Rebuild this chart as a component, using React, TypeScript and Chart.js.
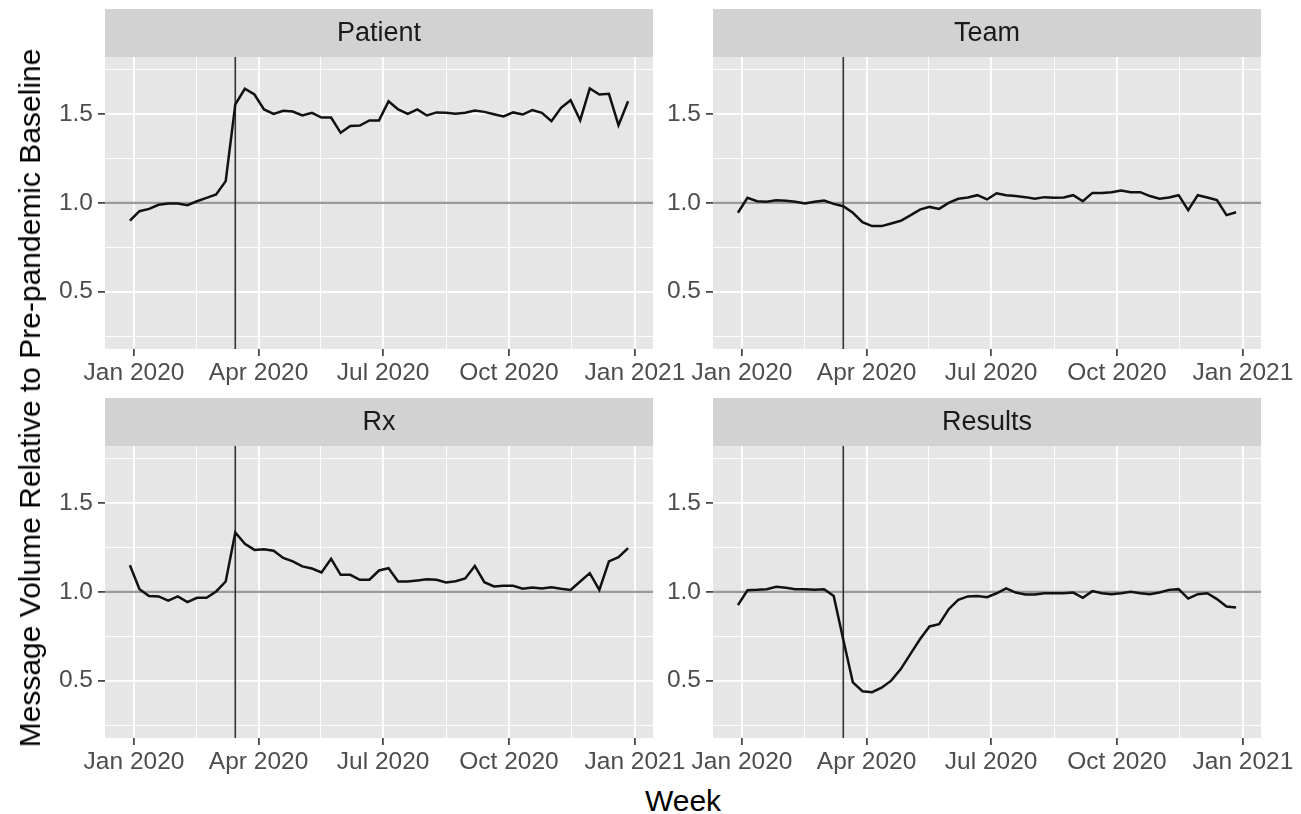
import React, { useEffect, useRef } from 'react';
import { Chart, registerables } from 'chart.js';

Chart.register(...registerables);

// ---------- data ----------
const weeks = [
  '2019-12-29', '2020-01-05', '2020-01-12', '2020-01-19', '2020-01-26', '2020-02-02', '2020-02-09',
  '2020-02-16', '2020-02-23', '2020-03-01', '2020-03-08', '2020-03-15', '2020-03-22', '2020-03-29',
  '2020-04-05', '2020-04-12', '2020-04-19', '2020-04-26', '2020-05-03', '2020-05-10', '2020-05-17',
  '2020-05-24', '2020-05-31', '2020-06-07', '2020-06-14', '2020-06-21', '2020-06-28', '2020-07-05',
  '2020-07-12', '2020-07-19', '2020-07-26', '2020-08-02', '2020-08-09', '2020-08-16', '2020-08-23',
  '2020-08-30', '2020-09-06', '2020-09-13', '2020-09-20', '2020-09-27', '2020-10-04', '2020-10-11',
  '2020-10-18', '2020-10-25', '2020-11-01', '2020-11-08', '2020-11-15', '2020-11-22', '2020-11-29',
  '2020-12-06', '2020-12-13', '2020-12-20', '2020-12-27',
];

const patient = [
  0.90, 0.953, 0.966, 0.989, 0.996, 0.996, 0.987, 1.009, 1.028, 1.047,
  1.122, 1.554, 1.642, 1.610, 1.526, 1.501, 1.518, 1.514, 1.492, 1.507,
  1.480, 1.480, 1.394, 1.432, 1.435, 1.464, 1.464, 1.572, 1.526, 1.501,
  1.526, 1.492, 1.509, 1.507, 1.501, 1.507, 1.520, 1.512, 1.499, 1.486,
  1.509, 1.497, 1.522, 1.507, 1.460, 1.535, 1.578, 1.465, 1.644, 1.610, 1.614, 1.437, 1.572,
];

const team = [
  0.944, 1.028, 1.009, 1.006, 1.015, 1.011, 1.006, 0.996, 1.006, 1.013,
  0.994, 0.981, 0.944, 0.891, 0.869, 0.869, 0.884, 0.899, 0.929, 0.962,
  0.977, 0.966, 1.0, 1.023, 1.030, 1.043, 1.019, 1.054, 1.043, 1.038,
  1.032, 1.023, 1.032, 1.028, 1.030, 1.043, 1.009, 1.056, 1.056, 1.060,
  1.069, 1.060, 1.060, 1.038, 1.023, 1.030, 1.043, 0.959, 1.043, 1.030, 1.015, 0.931, 0.947,
];

const rx = [
  1.150, 1.015, 0.977, 0.974, 0.951, 0.974, 0.942, 0.966, 0.966, 1.002,
  1.058, 1.334, 1.270, 1.236, 1.240, 1.231, 1.191, 1.171, 1.143, 1.131,
  1.109, 1.186, 1.096, 1.096, 1.068, 1.068, 1.120, 1.133, 1.058, 1.058,
  1.064, 1.071, 1.068, 1.053, 1.060, 1.075, 1.146, 1.054, 1.030, 1.034,
  1.034, 1.017, 1.024, 1.019, 1.026, 1.017, 1.011, 1.058, 1.105, 1.011, 1.171, 1.195, 1.246,
];

const results = [
  0.925, 1.009, 1.011, 1.015, 1.028, 1.023, 1.015, 1.015, 1.011, 1.015,
  0.977, 0.73, 0.49, 0.44, 0.435, 0.46, 0.50, 0.565, 0.649, 0.733,
  0.805, 0.818, 0.902, 0.955, 0.974, 0.977, 0.970, 0.992, 1.019, 0.996,
  0.985, 0.985, 0.992, 0.992, 0.992, 0.996, 0.966, 1.004, 0.992, 0.987,
  0.992, 1.0, 0.992, 0.987, 0.996, 1.011, 1.015, 0.962, 0.987, 0.992, 0.959, 0.917, 0.912,
];

const panelNames = ['Patient', 'Team', 'Rx', 'Results'];
const panelSeries = [patient, team, rx, results];

const xTickDates = ['2020-01-01', '2020-04-01', '2020-07-01', '2020-10-01', '2021-01-01'];
const xTickLabels = ['Jan 2020', 'Apr 2020', 'Jul 2020', 'Oct 2020', 'Jan 2021'];
const yMajorTicks = [0.5, 1.0, 1.5];
const yMinorTicks = [0.25, 0.75, 1.25, 1.75];
const pandemicDate = '2020-03-15';
const baselineValue = 1.0;

const Y_MIN = 0.177;
const Y_MAX = 1.821;

// ---------- layout / style ----------
const FONT = '"Liberation Sans", Arial, Helvetica, sans-serif';
const COL_LEFT = [105, 713];
const ROW_TOP = [9, 398];
const PANEL_W = 548;
const PANEL_H = 292;
const STRIP_H = 48;
const YW = 60;
const XH = 44;
const PR = 38;

const TICK_SIZE = 24.5;
const STRIP_SIZE = 27;
const TITLE_SIZE = 30;

const PANEL_BG = '#e6e6e6';
const STRIP_BG = '#d2d2d2';

const dayOf = (s: string) => {
  const [y, m, d] = s.split('-').map(Number);
  return (Date.UTC(y, m - 1, d) - Date.UTC(2020, 0, 1)) / 86400000;
};

const xDays = weeks.map(dayOf);
const xDataMin = Math.min(...xDays);
const xDataMax = Math.max(...xDays);
const xPad = (xDataMax - xDataMin) * 0.05;
const X_MIN = xDataMin - xPad;
const X_MAX = xDataMax + xPad;

const xMajor = xTickDates.map(dayOf);
const xMinor = xMajor.slice(0, -1).map((v, i) => (v + xMajor[i + 1]) / 2);
const xAll = [...xMajor, ...xMinor].sort((a, b) => a - b);
const yAll = [...yMajorTicks, ...yMinorTicks].sort((a, b) => a - b);

const isXMajor = (v: number) => xMajor.some((m) => Math.abs(m - v) < 1e-6);
const isYMajor = (v: number) => yMajorTicks.some((m) => Math.abs(m - v) < 1e-6);

function makeConfig(name: string, values: number[]): any {
  const decor = {
    id: 'panelDecor',
    beforeDraw(chart: any) {
      const { ctx, chartArea } = chart;
      const { left, right, top, bottom } = chartArea;
      ctx.save();
      ctx.fillStyle = PANEL_BG;
      ctx.fillRect(left, top, right - left, bottom - top);
      ctx.fillStyle = STRIP_BG;
      ctx.fillRect(left, top - STRIP_H, right - left, STRIP_H);
      ctx.fillStyle = '#1a1a1a';
      ctx.font = `${STRIP_SIZE}px ${FONT}`;
      ctx.textAlign = 'center';
      ctx.textBaseline = 'middle';
      ctx.fillText(name, (left + right) / 2, top - STRIP_H / 2 + 1);
      ctx.restore();
    },
    beforeDatasetsDraw(chart: any) {
      const { ctx, chartArea, scales } = chart;
      const { left, right, top, bottom } = chartArea;
      ctx.save();
      ctx.beginPath();
      ctx.rect(left, top, right - left, bottom - top);
      ctx.clip();
      const yb = scales.y.getPixelForValue(baselineValue);
      ctx.strokeStyle = '#9a9a9a';
      ctx.lineWidth = 2.2;
      ctx.beginPath();
      ctx.moveTo(left, yb);
      ctx.lineTo(right, yb);
      ctx.stroke();
      const xv = scales.x.getPixelForValue(dayOf(pandemicDate));
      ctx.strokeStyle = '#333333';
      ctx.lineWidth = 1.6;
      ctx.beginPath();
      ctx.moveTo(xv, top);
      ctx.lineTo(xv, bottom);
      ctx.stroke();
      ctx.restore();
    },
  };

  return {
    type: 'line',
    data: {
      datasets: [
        {
          data: xDays.map((x, i) => ({ x, y: values[i] })),
          borderColor: '#111111',
          borderWidth: 2.5,
          pointRadius: 0,
          tension: 0,
          fill: false,
        },
      ],
    },
    options: {
      animation: false,
      responsive: false,
      maintainAspectRatio: false,
      layout: { padding: { top: STRIP_H, right: PR, left: 0, bottom: 0 } },
      plugins: { legend: { display: false }, tooltip: { enabled: false } },
      scales: {
        x: {
          type: 'linear',
          min: X_MIN,
          max: X_MAX,
          afterBuildTicks: (s: any) => {
            s.ticks = xAll.map((v) => ({ value: v }));
          },
          afterFit: (s: any) => {
            s.height = XH;
          },
          ticks: {
            autoSkip: false,
            maxRotation: 0,
            minRotation: 0,
            padding: 3,
            color: '#4d4d4d',
            font: { family: FONT, size: TICK_SIZE },
            callback: (v: number) => {
              const i = xMajor.findIndex((m) => Math.abs(m - v) < 1e-6);
              return i >= 0 ? xTickLabels[i] : '';
            },
          },
          grid: {
            color: '#ffffff',
            lineWidth: (c: any) => (c.tick && isXMajor(c.tick.value) ? 1.8 : 0.9),
            tickColor: (c: any) => (c.tick && isXMajor(c.tick.value) ? '#333333' : 'rgba(0,0,0,0)'),
            tickWidth: 1.6,
            tickLength: 7,
          },
          border: { display: false },
        },
        y: {
          type: 'linear',
          min: Y_MIN,
          max: Y_MAX,
          afterBuildTicks: (s: any) => {
            s.ticks = yAll.map((v) => ({ value: v }));
          },
          afterFit: (s: any) => {
            s.width = YW;
          },
          ticks: {
            autoSkip: false,
            padding: 5,
            color: '#4d4d4d',
            font: { family: FONT, size: TICK_SIZE },
            callback: (v: number) => (isYMajor(v) ? v.toFixed(1) : ''),
          },
          grid: {
            color: '#ffffff',
            lineWidth: (c: any) => (c.tick && isYMajor(c.tick.value) ? 1.8 : 0.9),
            tickColor: (c: any) => (c.tick && isYMajor(c.tick.value) ? '#333333' : 'rgba(0,0,0,0)'),
            tickWidth: 1.6,
            tickLength: 7,
          },
          border: { display: false },
        },
      },
    },
    plugins: [decor],
  };
}

function Panel({ index }: { index: number }) {
  const ref = useRef<HTMLCanvasElement | null>(null);
  const col = index % 2;
  const row = Math.floor(index / 2);
  const left = COL_LEFT[col] - YW;
  const top = ROW_TOP[row];
  const width = YW + PANEL_W + PR;
  const height = STRIP_H + PANEL_H + XH;
  useEffect(() => {
    if (!ref.current) return;
    const chart = new Chart(ref.current, makeConfig(panelNames[index], panelSeries[index]));
    return () => chart.destroy();
  }, [index]);
  return (
    <canvas
      ref={ref}
      width={width}
      height={height}
      style={{ position: 'absolute', left, top, width, height }}
    />
  );
}

export default function App() {
  return (
    <div
      style={{
        position: 'fixed',
        left: 0,
        top: 0,
        width: 1301,
        height: 814,
        background: '#ffffff',
        overflow: 'hidden',
        fontFamily: FONT,
      }}
    >
      {[0, 1, 2, 3].map((i) => (
        <Panel key={i} index={i} />
      ))}
      <div
        style={{
          position: 'absolute',
          left: 30,
          top: 398,
          transform: 'translate(-50%, -50%) rotate(-90deg)',
          whiteSpace: 'nowrap',
          fontSize: TITLE_SIZE,
          color: '#000000',
          lineHeight: 1,
        }}
      >
        Message Volume Relative to Pre-pandemic Baseline
      </div>
      <div
        style={{
          position: 'absolute',
          left: 683,
          top: 801,
          transform: 'translate(-50%, -50%)',
          whiteSpace: 'nowrap',
          fontSize: TITLE_SIZE,
          color: '#000000',
          lineHeight: 1,
        }}
      >
        Week
      </div>
    </div>
  );
}
